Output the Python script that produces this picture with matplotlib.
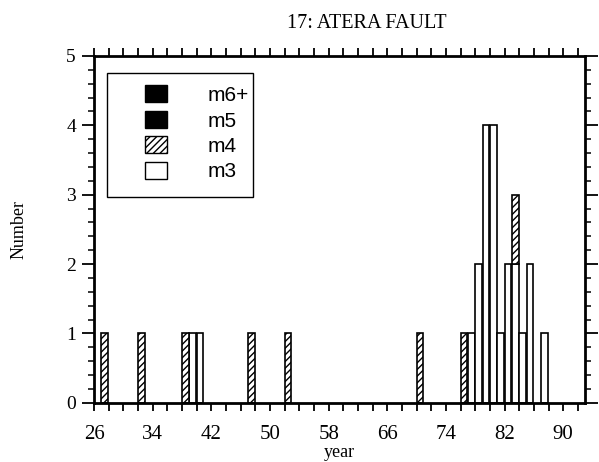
import numpy as np
import matplotlib.pyplot as plt
from matplotlib.patches import Patch, Rectangle
from matplotlib.ticker import MultipleLocator

# Yearly counts per magnitude class (years 19xx)
years = [27, 32, 38, 39, 40, 47, 52, 70, 76, 77, 78, 79, 80, 81, 82, 83, 84, 85, 87]
m3 = [0, 0, 0, 1, 1, 0, 0, 0, 0, 1, 2, 4, 4, 1, 2, 2, 1, 2, 1]
m4 = [1, 1, 1, 0, 0, 1, 1, 1, 1, 0, 0, 0, 0, 0, 0, 1, 0, 0, 0]
m5 = [0, 0, 0, 0, 0, 0, 0, 0, 0, 0, 0, 0, 0, 0, 0, 0, 0, 0, 0]
m6 = [0, 0, 0, 0, 0, 0, 0, 0, 0, 0, 0, 0, 0, 0, 0, 0, 0, 0, 0]

xticks = [26, 34, 42, 50, 58, 66, 74, 82, 90]
serif = 'Liberation Serif'
sans = 'Liberation Sans'

fig = plt.figure(figsize=(5.99, 4.62), dpi=100)
ax = fig.add_axes([0.157, 0.128, 0.820, 0.751])

# stacked bars, m3 at the bottom
series = [(m3, 'white', None), (m4, 'white', '/////'), (m5, 'black', None), (m6, 'black', None)]
bottom = np.zeros(len(years))
for vals, fc, hatch in series:
    vals = np.array(vals, dtype=float)
    mask = vals > 0
    ax.bar(np.array(years)[mask], vals[mask], width=0.9, align='edge', bottom=bottom[mask],
           facecolor=fc, edgecolor='black', hatch=hatch, linewidth=1.2)
    bottom = bottom + vals

ax.set_xlim(26, 93)
ax.set_ylim(0, 5)

ax.set_xticks(xticks)
ax.xaxis.set_minor_locator(MultipleLocator(2))
ax.yaxis.set_major_locator(MultipleLocator(1))
ax.yaxis.set_minor_locator(MultipleLocator(0.2))

ax.tick_params(axis='x', which='both', direction='out', length=6, width=1.3, top=True, pad=10)
ax.tick_params(axis='y', which='major', direction='out', length=9, width=1.3, right=True, pad=4)
ax.tick_params(axis='y', which='minor', direction='out', length=4, width=1.1, right=True)

for lab in ax.get_xticklabels():
    lab.set_fontfamily(serif)
    lab.set_fontsize(15)
for lab in ax.get_yticklabels():
    lab.set_fontfamily(serif)
    lab.set_fontsize(14)

for sp in ax.spines.values():
    sp.set_linewidth(2)

ax.set_title('17: ATERA FAULT', fontfamily=serif, fontsize=14.5, pad=20, x=0.555)
ax.set_xlabel('year', fontfamily=serif, fontsize=13, labelpad=0)
ax.set_ylabel('Number', fontfamily=serif, fontsize=13, labelpad=28)

# legend
handles = [Patch(facecolor='black', edgecolor='black', label='m6+'),
           Patch(facecolor='black', edgecolor='black', label='m5'),
           Patch(facecolor='white', edgecolor='black', hatch='/////', label='m4'),
           Patch(facecolor='white', edgecolor='black', label='m3')]
ax.add_patch(Rectangle((0.026, 0.594), 0.298, 0.357, transform=ax.transAxes,
                       facecolor='white', edgecolor='black', linewidth=1.0, zorder=4))
leg = ax.legend(handles=handles, loc='upper left', bbox_to_anchor=(0.104, 0.915),
                frameon=False, borderpad=0, borderaxespad=0, handlelength=1.06,
                handleheight=0.87, handletextpad=1.95, labelspacing=0.28,
                prop={'family': sans, 'size': 15})
leg.set_zorder(5)

fig.savefig('out.png', dpi=100)
